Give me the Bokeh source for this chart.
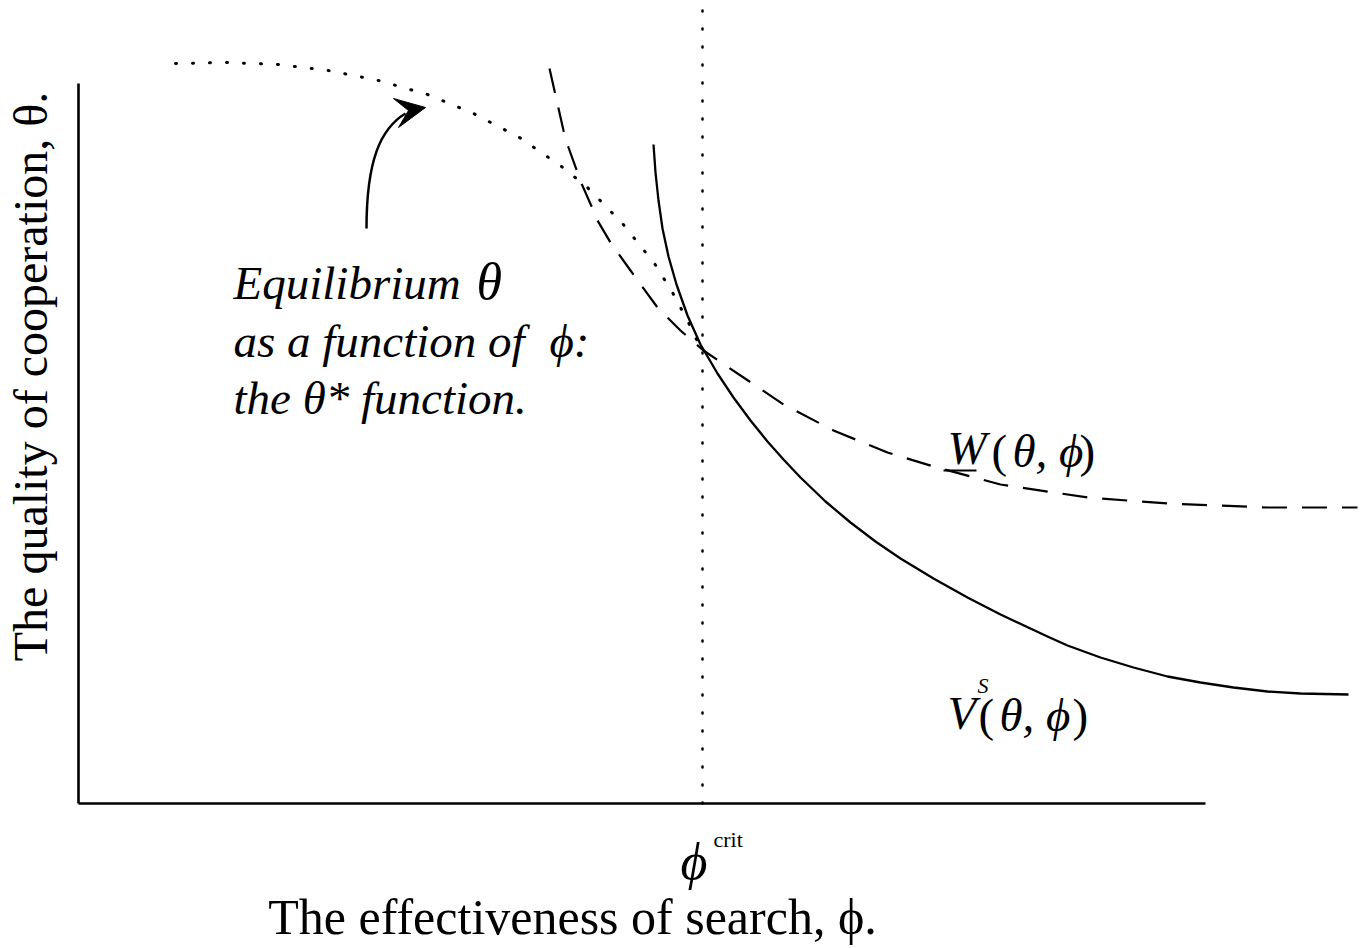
from bokeh.plotting import figure
from bokeh.models import Range1d
from bokeh.embed import file_html
from bokeh.resources import INLINE
from bokeh.core.properties import value

# ---- data (units: phi / theta measured from the axis origin) ----
# Equilibrium theta as a function of phi (dotted theta* function)
star_phi = [97, 149, 199, 250, 300, 349, 395, 441, 483, 509, 544, 576, 594, 610, 617, 624]
star_theta = [740, 741, 739, 733, 723, 709, 690, 666, 637, 616, 580, 540, 511, 481, 466, 453]

# W(theta, phi) (dashed)
w_phi = [471, 485, 490, 503, 514, 519, 532, 552, 579, 602, 625, 665, 705, 755, 809, 855, 922, 1009, 1089, 1189, 1279]
w_theta = [735, 673, 656, 620, 595, 583, 561, 533, 496, 473, 453, 426, 399, 373, 351, 337, 319, 306, 300, 296, 296]

# V^S(theta, phi) (solid)
v_phi = [575, 577, 580, 584, 590, 598, 609, 622, 639, 655, 672, 689, 705, 722, 747, 772, 797, 822,
         855, 889, 922, 969, 989, 1022, 1055, 1089, 1122, 1155, 1189, 1222, 1270]
v_theta = [659, 631, 603, 575, 547, 519, 488, 459, 430, 406, 383, 362, 344, 326, 302, 281, 262, 245,
           225, 206, 189, 167, 158, 146, 136, 127, 121, 116, 112, 110, 109]

phi_crit = 624
axis_phi_max = 1127
axis_theta_max = 720
vline_theta_max = 797

# annotation arrow (bezier) and its head
arrow_start = (288, 575)
arrow_c0 = (288, 643)
arrow_c1 = (302, 675)
arrow_end = (327, 690)
head_phi = [347, 315, 330, 320]
head_theta = [696, 705, 693, 676]

SERIF = value("Liberation Serif")


def bl(y, size):
    # place the alphabetic baseline at y (compensates the renderer's offset)
    return y + 0.33 * size


def txt(x, y, s, size, italic=True, align="left", angle=0.0):
    p.text(x=[x], y=[bl(y, size)], text=[s], text_font=SERIF,
           text_font_style="italic" if italic else "normal",
           text_font_size=f"{size}px", text_baseline="alphabetic", text_align=align,
           angle=angle, text_color="black")


p = figure(width=1369, height=948, x_range=Range1d(-78, 1291), y_range=Range1d(-145, 803),
           output_backend="svg", toolbar_location=None, min_border=0,
           x_axis_location=None, y_axis_location=None)
p.grid.visible = False
p.outline_line_color = None
p.background_fill_color = "white"
p.border_fill_color = "white"

# axes
p.line([0, 0], [0, axis_theta_max], line_color="black", line_width=2.6)
p.line([0, axis_phi_max], [0, 0], line_color="black", line_width=2.6)

# vertical dotted phi-crit line
p.line([phi_crit, phi_crit], [0, vline_theta_max], line_color="black", line_width=2.5,
       line_dash="1 17", line_cap="round")

# curves
p.line(star_phi, star_theta, line_color="black", line_width=3, line_dash="1 16", line_cap="round",
       line_join="round")
p.line(w_phi, w_theta, line_color="black", line_width=2.2, line_dash="25 15", line_join="round")
p.line(v_phi, v_theta, line_color="black", line_width=2.3, line_join="round")

# arrow
p.bezier(x0=[arrow_start[0]], y0=[arrow_start[1]], x1=[arrow_end[0]], y1=[arrow_end[1]],
         cx0=[arrow_c0[0]], cy0=[arrow_c0[1]], cx1=[arrow_c1[0]], cy1=[arrow_c1[1]],
         line_color="black", line_width=2.5)
p.patch(head_phi, head_theta, fill_color="black", line_color="black", line_width=1)

# annotation text
S_ANN = 47
txt(155, 505, "Equilibrium", S_ANN)
txt(398, 505, "θ", 52)
txt(155, 447, "as a function of", S_ANN)
txt(471, 447, "ϕ:", S_ANN)
txt(155, 390, "the θ* function.", S_ANN)

# W label
txt(869, 340, "W", S_ANN)
p.line([865, 898], [333, 333], line_color="black", line_width=2)
txt(913, 337, "(", S_ANN, italic=False)
txt(934, 337, "θ, ϕ", S_ANN)
txt(1001, 337, ")", S_ANN, italic=False)

# V^S label
txt(869, 75, "V", S_ANN)
txt(899, 111, "S", 22)
txt(900, 73, "(", S_ANN, italic=False)
txt(921, 73, "θ, ϕ", S_ANN)
txt(994, 73, ")", S_ANN, italic=False)

# phi crit
p.text(x=[602], y=[-58], text=["ϕ"], text_font=SERIF, text_font_style="italic",
       text_font_size="52px", text_baseline="alphabetic", text_color="black")
p.text(x=[635], y=[-36], text=["crit"], text_font=SERIF,
       text_font_size="22px", text_baseline="alphabetic", text_color="black")

# axis titles
txt(494, -130, "The effectiveness of search, ϕ.", 50, italic=False, align="center")
p.text(x=[-48], y=[427], text=["The quality of cooperation, θ."], text_font=SERIF,
       text_font_size="48px", text_baseline="alphabetic", text_align="center",
       angle=1.5707963, text_color="black")

open("out.html", "w").write(file_html(p, INLINE))
